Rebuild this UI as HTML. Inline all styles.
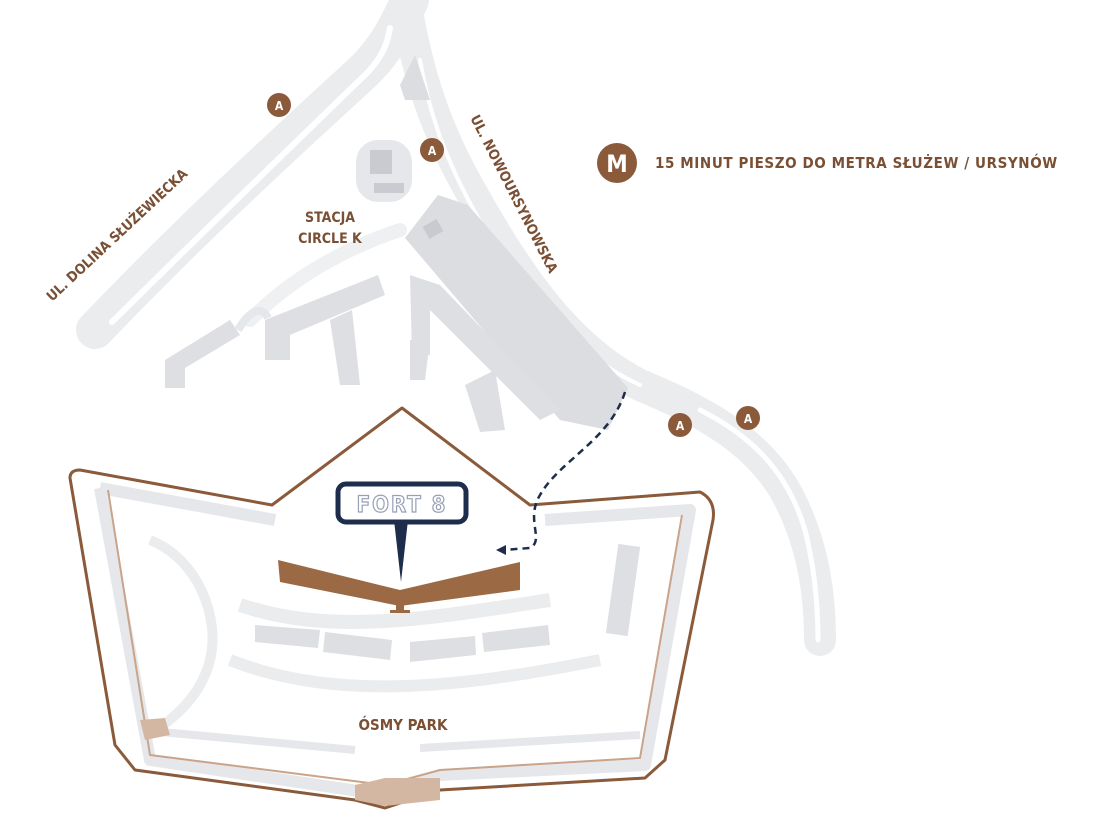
<!DOCTYPE html>
<html><head><meta charset="utf-8"><style>
html,body{margin:0;padding:0;background:#fff;width:1100px;height:840px;overflow:hidden}
svg{display:block}
text{font-family:"DejaVu Sans Condensed","Liberation Sans",sans-serif;font-weight:bold;fill:#7a4f33}
</style></head><body>
<svg width="1100" height="840" viewBox="0 0 1100 840">
<g fill="none" stroke-linecap="round">
  <path d="M95,330 C200,220 300,130 365,70 C390,45 400,20 410,0" stroke="#ebecee" stroke-width="38"/>
  <path d="M112,322 C210,225 300,138 368,72 C384,55 388,40 390,28" stroke="#fff" stroke-width="6"/>
  <path d="M405,0 C415,60 430,120 470,190 C520,280 570,350 640,385 C700,410 760,440 790,500 C815,550 820,600 820,640" stroke="#ebecee" stroke-width="32"/>
  <path d="M420,60 C430,120 450,170 485,230 C530,300 575,355 640,385" stroke="#fff" stroke-width="4"/>
  <path d="M700,410 C760,440 790,480 805,530 C815,570 818,610 818,640" stroke="#fff" stroke-width="5"/>
  <path d="M400,230 C340,250 290,280 250,320" stroke="#eef0f2" stroke-width="14"/>
</g>
<polygon points="405,238 438,195 468,205 628,388 608,430 560,420" fill="#dcdde0"/>
<rect x="425" y="222" width="16" height="14" fill="#c8cacf" transform="rotate(-30 433 229)"/>
<polygon points="400,85 415,55 430,100 405,100" fill="#dcdde0"/>
<rect x="356" y="140" width="56" height="62" rx="22" fill="#e6e7ea"/>
<rect x="370" y="150" width="22" height="24" fill="#c9cbd0"/>
<rect x="374" y="183" width="30" height="10" fill="#c9cbd0"/>
<g fill="#dedfe2">
  <polygon points="165,360 230,320 240,335 185,368 185,388 165,388"/>
  <polygon points="265,320 378,275 385,295 290,335 290,360 265,360"/>
  <polygon points="330,320 352,310 360,385 340,385"/>
  <polygon points="410,275 440,285 560,410 540,420 430,310 430,355 412,355"/>
  <polygon points="410,340 430,340 425,380 410,380"/>
  <polygon points="465,385 495,370 505,430 480,432"/>
</g>
<path d="M238,330 C250,310 262,305 268,318" fill="none" stroke="#e6e7ea" stroke-width="8"/>
<path d="M70,478 Q70,470 80,470 L272,505 L402,408 L530,505 L700,492 Q716,500 713,520 L665,760 L645,778 L440,790 L385,808 L355,800 L135,770 L115,745 Z" fill="#fff" stroke="#8a5a3a" stroke-width="3" stroke-linejoin="round"/>
<g fill="none" stroke-linejoin="round">
  <path d="M100,488 L275,520 M545,520 L690,510 L645,765 L440,775 L385,795 L150,760 L100,488" stroke="#e6e7ea" stroke-width="12"/>
  <path d="M108,490 L150,755 L385,785 L440,770 L640,758 L682,515" stroke="#c9a48a" stroke-width="2"/>
  <path d="M140,730 L355,750 M420,748 L640,735" stroke="#e6e7ea" stroke-width="8"/>
  <path d="M240,605 C330,635 420,620 550,600" stroke="#ebecee" stroke-width="14"/>
  <path d="M230,660 C330,700 450,690 600,660" stroke="#ebecee" stroke-width="12"/>
  <path d="M150,540 C200,560 220,620 210,660 C200,700 170,720 150,735" stroke="#ebecee" stroke-width="10"/>
</g>
<polygon points="140,720 165,718 170,735 145,740" fill="#d4b7a2"/>
<polygon points="355,785 385,778 440,778 440,800 385,806 355,800" fill="#d4b7a2"/>
<rect x="612" y="545" width="22" height="90" fill="#dedfe2" transform="rotate(8 623 590)"/>
<g fill="#dedfe2">
  <polygon points="255,625 320,630 318,648 255,642"/>
  <polygon points="325,632 392,640 390,660 323,652"/>
  <polygon points="410,642 475,636 476,655 410,662"/>
  <polygon points="482,633 548,625 550,645 484,652"/>
</g>
<polygon points="278,560 400,590 520,562 520,590 400,606 280,582" fill="#9b6a44"/>
<rect x="396" y="600" width="8" height="12" fill="#9b6a44"/>
<rect x="390" y="610" width="20" height="3" fill="#9b6a44"/>
<polygon points="394,520 408,520 401,582" fill="#1f2d4d"/>
<rect x="338" y="484" width="128" height="38" rx="8" fill="#fff" stroke="#1f2d4d" stroke-width="5"/>
<text x="402" y="512" text-anchor="middle" font-size="22" style="fill:#fff;stroke:#98a0b5;stroke-width:1.2;letter-spacing:2px">FORT 8</text>
<path d="M625,392 C610,440 560,460 540,495 C525,520 545,540 530,548 L503,550" fill="none" stroke="#1f2d4d" stroke-width="2.5" stroke-dasharray="7,5"/>
<polygon points="496,550 506,545 506,555" fill="#1f2d4d"/>
<g>
  <circle cx="279" cy="105" r="12" fill="#8a5a3a"/><text x="279" y="110" text-anchor="middle" font-size="12" style="fill:#fff">A</text>
  <circle cx="432" cy="150" r="12" fill="#8a5a3a"/><text x="432" y="155" text-anchor="middle" font-size="12" style="fill:#fff">A</text>
  <circle cx="680" cy="425" r="12" fill="#8a5a3a"/><text x="680" y="430" text-anchor="middle" font-size="12" style="fill:#fff">A</text>
  <circle cx="748" cy="418" r="12" fill="#8a5a3a"/><text x="748" y="423" text-anchor="middle" font-size="12" style="fill:#fff">A</text>
  <circle cx="617" cy="163" r="20" fill="#8a5a3a"/><text x="617" y="172" text-anchor="middle" font-size="24" style="fill:#fff">M</text>
</g>
<text x="655" y="168" font-size="15" style="letter-spacing:0.6px">15 MINUT PIESZO DO METRA SŁUŻEW / URSYNÓW</text>
<text x="330" y="222" text-anchor="middle" font-size="14">STACJA</text>
<text x="330" y="243" text-anchor="middle" font-size="14">CIRCLE K</text>
<text transform="translate(52,302) rotate(-43)" font-size="14">UL. DOLINA SŁUŻEWIECKA</text>
<text transform="translate(470,118) rotate(63)" font-size="14">UL. NOWOURSYNOWSKA</text>
<text x="403" y="730" text-anchor="middle" font-size="15">ÓSMY PARK</text>
</svg>
</body></html>
